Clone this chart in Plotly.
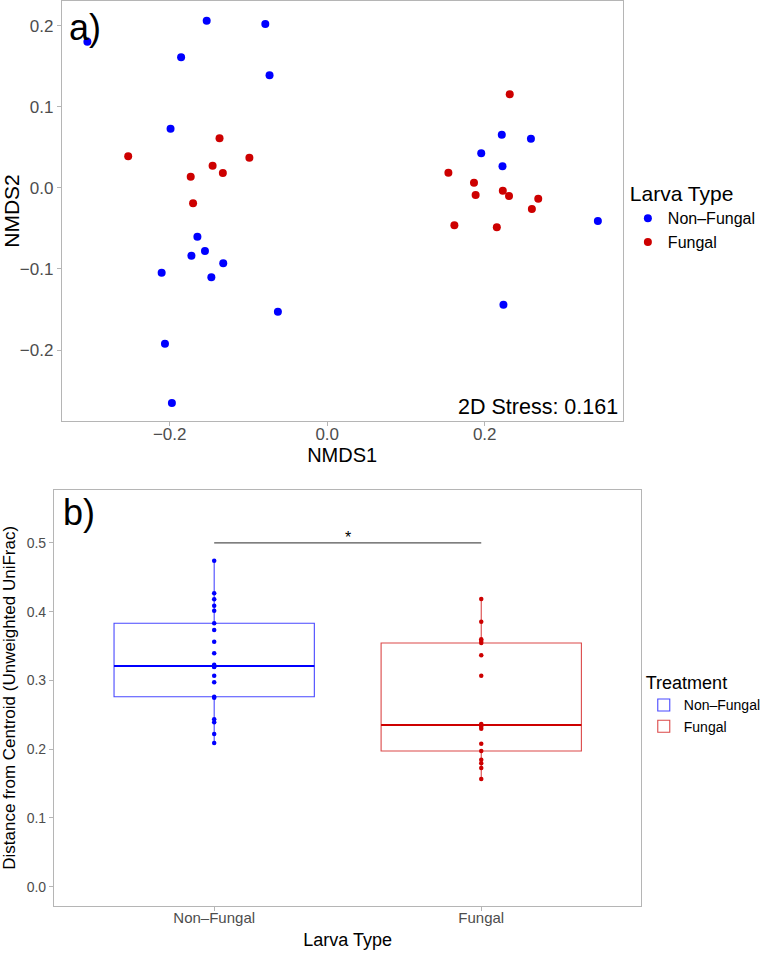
import numpy as np
import plotly.graph_objects as go

# ---------------- Panel a) NMDS ordination ----------------
larva_types = ["Non–Fungal", "Fungal"]
colors = {"Non–Fungal": "#0000FF", "Fungal": "#CD0000"}
box_line_colors = {"Non–Fungal": "rgba(0,0,255,0.72)", "Fungal": "rgba(205,0,0,0.72)"}

nonfungal_nmds1 = [-0.3045, -0.153, -0.0786, -0.1855, -0.0732, -0.1989, -0.1648,
                   -0.1724, -0.1552, -0.2102, -0.132, -0.1471, -0.0626, -0.206,
                   -0.1972, 0.2217, 0.2587, 0.1956, 0.2226, 0.3437, 0.2238]
nonfungal_nmds2 = [0.180, 0.206, 0.202, 0.161, 0.1387, 0.0729, -0.0603,
                   -0.0837, -0.0779, -0.1047, -0.0931, -0.1104, -0.1528, -0.1922,
                   -0.2653, 0.0655, 0.0605, 0.0425, 0.0265, -0.0409, -0.1441]
fungal_nmds1 = [-0.2527, -0.1367, -0.1455, -0.1325, -0.0988, -0.1733, -0.1703,
                0.2318, 0.1539, 0.1864, 0.1885, 0.223, 0.2309, 0.268, 0.2599,
                0.1615, 0.2154]
fungal_nmds2 = [0.0388, 0.061, 0.0272, 0.0182, 0.0371, 0.0137, -0.0191,
                0.1153, 0.0186, 0.0063, -0.0089, -0.0036, -0.0101, -0.0134,
                -0.0261, -0.0462, -0.0487]
stress_value = 0.161

# ---------------- Panel b) distance to centroid ----------------
treatments = ["Non–Fungal", "Fungal"]
dist_nonfungal = [0.4742, 0.4268, 0.418, 0.4087, 0.4015, 0.3831, 0.3734, 0.3564,
                  0.3395, 0.3229, 0.321, 0.320, 0.3196, 0.3069, 0.2973, 0.2764,
                  0.2749, 0.2435, 0.2391, 0.2221, 0.209]
dist_fungal = [0.4185, 0.3855, 0.3599, 0.3574, 0.3545, 0.3366, 0.3069, 0.2365,
               0.2352, 0.2327, 0.2298, 0.208, 0.1974, 0.1847, 0.1795, 0.1727, 0.1567]
sig_pair = [0, 1]
sig_y = 0.5
sig_label = "*"

FONT = "Liberation Sans, Arial, Helvetica, sans-serif"
W, H = 766, 954

fig = go.Figure()

# scatter panel
for name, xs, ys in [("Non–Fungal", nonfungal_nmds1, nonfungal_nmds2),
                     ("Fungal", fungal_nmds1, fungal_nmds2)]:
    fig.add_trace(go.Scatter(
        x=xs, y=ys, mode="markers", name=name,
        marker=dict(color=colors[name], size=8, line=dict(width=0)),
        xaxis="x", yaxis="y", legend="legend"))

# box panel
for i, (name, vals) in enumerate([("Non–Fungal", dist_nonfungal), ("Fungal", dist_fungal)]):
    fig.add_trace(go.Box(
        x=[i] * len(vals), y=vals, name=name, width=0.75,
        boxpoints="all", jitter=0, pointpos=0, whiskerwidth=0,
        quartilemethod="inclusive",
        marker=dict(color=colors[name], size=4.5),
        line=dict(color=box_line_colors[name], width=1.1),
        fillcolor="rgba(255,255,255,0)",
        xaxis="x2", yaxis="y2", legend="legend2"))
    med = float(np.median(vals))
    fig.add_trace(go.Scatter(
        x=[i - 0.375, i + 0.375], y=[med, med], mode="lines",
        line=dict(color=colors[name], width=2), showlegend=False,
        hoverinfo="skip", xaxis="x2", yaxis="y2"))

# significance bar
fig.add_trace(go.Scatter(
    x=sig_pair, y=[sig_y, sig_y], mode="lines",
    line=dict(color="#555555", width=1.3), showlegend=False,
    hoverinfo="skip", xaxis="x2", yaxis="y2"))

axis_common = dict(showline=True, mirror=True, linecolor="#B5B5B5", linewidth=1,
                   showgrid=False, zeroline=False, ticks="outside", ticklen=4,
                   tickcolor="#B5B5B5", automargin=False)


def tf(size):
    return dict(family=FONT, color="#4D4D4D", size=size)


fig.update_layout(
    width=W, height=H,
    margin=dict(l=0, r=0, t=0, b=0),
    paper_bgcolor="white", plot_bgcolor="white",
    font=dict(family=FONT, color="black"),
    xaxis=dict(domain=[62.2 / W, 626.6 / W], range=[-0.337, 0.375],
               tickvals=[-0.2, 0.0, 0.2], tickformat=".1f", tickfont=tf(17),
               ticklabelstandoff=-6,
               title=dict(text="NMDS1", font=dict(size=20), standoff=0),
               anchor="y", **axis_common),
    yaxis=dict(domain=[1 - 421 / H, 1 - 1 / H], range=[-0.2875, 0.2303],
               tickvals=[-0.2, -0.1, 0.0, 0.1, 0.2], tickformat=".1f", tickfont=tf(17),
               title=dict(text="NMDS2", font=dict(size=21), standoff=6),
               anchor="x", **axis_common),
    xaxis2=dict(domain=[54.3 / W, 645.7 / W], range=[-0.6, 1.6],
                tickvals=[0, 1], ticktext=treatments, tickfont=tf(15),
                ticklabelstandoff=-6,
                title=dict(text="Larva Type", font=dict(size=18), standoff=8),
                anchor="y2", **axis_common),
    yaxis2=dict(domain=[1 - 905.7 / H, 1 - 490 / H], range=[-0.0276, 0.577],
                tickvals=[0.0, 0.1, 0.2, 0.3, 0.4, 0.5], tickformat=".1f", tickfont=tf(14),
                title=dict(text="Distance from Centroid (Unweighted UniFrac)",
                           font=dict(size=17), standoff=6),
                anchor="x2", **axis_common),
    legend=dict(title=dict(text="Larva Type", font=dict(size=21)),
                font=dict(size=16), x=632 / W, xanchor="left", y=1 - 174 / H, yanchor="top",
                bgcolor="rgba(0,0,0,0)", tracegroupgap=0),
    legend2=dict(title=dict(text="Treatment", font=dict(size=18)),
                 font=dict(size=14), x=648 / W, xanchor="left", y=1 - 666 / H, yanchor="top",
                 bgcolor="rgba(0,0,0,0)", tracegroupgap=0),
    annotations=[
        dict(text="a)", xref="x domain", yref="y domain", x=0.01, y=0.99,
             xanchor="left", yanchor="top", showarrow=False, font=dict(size=36)),
        dict(text="b)", xref="x2 domain", yref="y2 domain", x=0.012, y=1.0,
             xanchor="left", yanchor="top", showarrow=False, font=dict(size=36)),
        dict(text=f"2D Stress: {stress_value}", xref="x domain", yref="y domain",
             x=0.995, y=0.0, xanchor="right", yanchor="bottom", showarrow=False,
             font=dict(size=21.5)),
        dict(text=sig_label, xref="x2", yref="y2", x=float(np.mean(sig_pair)), y=sig_y,
             xanchor="center", yanchor="bottom", yshift=-5, showarrow=False,
             font=dict(size=16)),
    ],
)

fig.write_html("out.html", config={"displayModeBar": False},
               post_script="document.body.style.margin='0';")
